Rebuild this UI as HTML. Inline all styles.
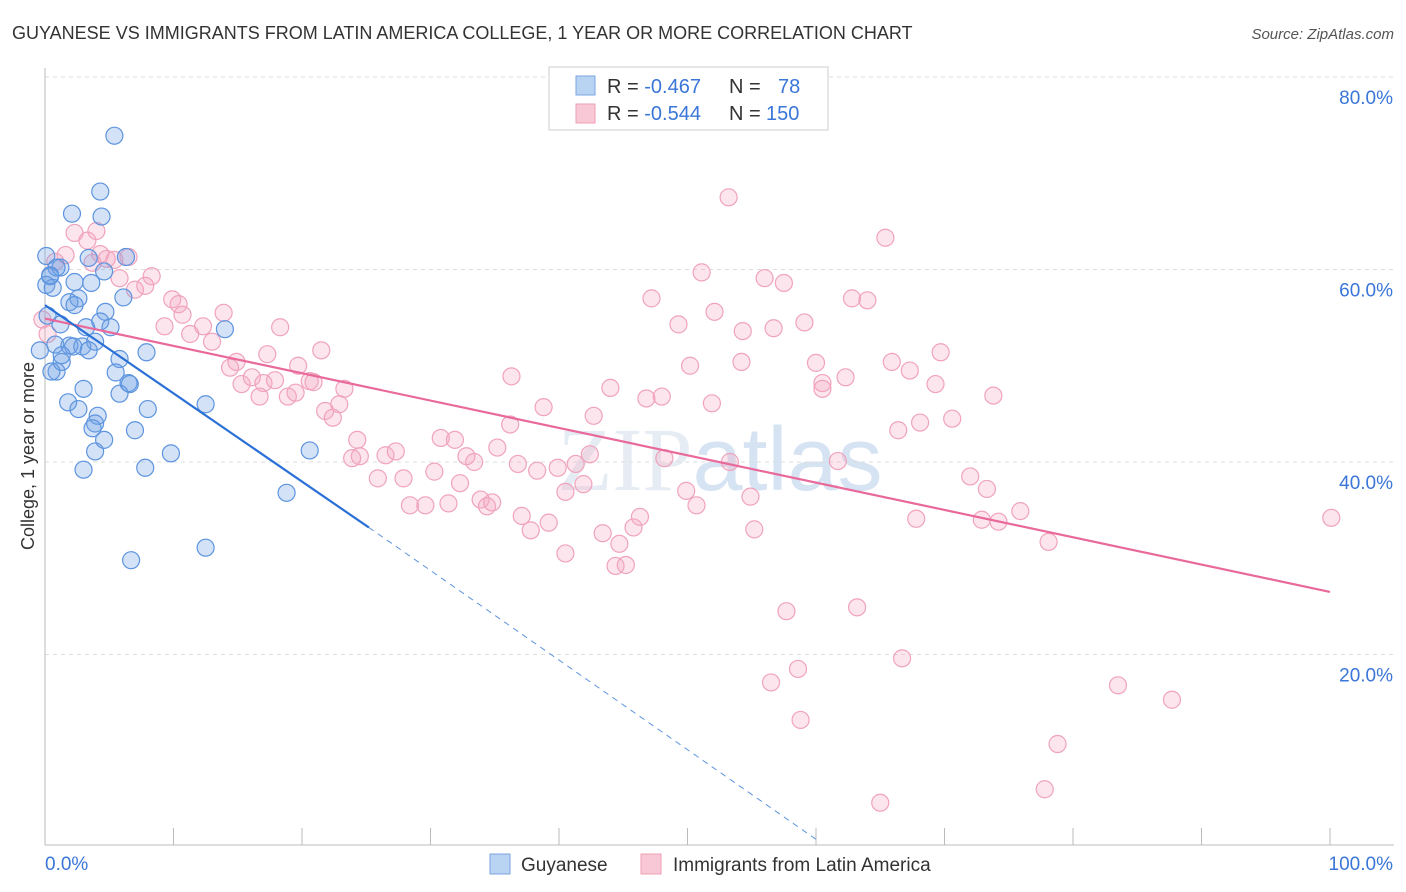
<!DOCTYPE html>
<html><head><meta charset="utf-8"><style>
body{margin:0;background:#fff;font-family:"Liberation Sans",sans-serif;}
svg{display:block}
</style></head><body>
<svg id="chart" width="1406" height="892">
<text x="12" y="39" font-size="18" fill="#333">GUYANESE VS IMMIGRANTS FROM LATIN AMERICA COLLEGE, 1 YEAR OR MORE CORRELATION CHART</text>
<text x="1394" y="39" font-size="15" fill="#555" font-style="italic" text-anchor="end">Source: ZipAtlas.com</text>
<text x="720" y="490" font-size="90" fill="#e6ecf4" text-anchor="middle" font-family="Liberation Serif">ZIP<tspan fill="#d6e3f3" font-family="Liberation Sans">atlas</tspan></text>
<g id="grid"></g>
<g id="marks"></g>
<text transform="translate(34,456) rotate(-90)" font-size="18" fill="#333" text-anchor="middle">College, 1 year or more</text>
<g>
<rect x="549" y="67" width="279" height="63" fill="#fff" stroke="#ccc"/>
<rect x="576" y="76" width="19" height="19" fill="#b9d3f3" stroke="#7aa6e0"/>
<rect x="576" y="104" width="19" height="19" fill="#f9c8d6" stroke="#ee9fb7"/>
<text x="607" y="93" font-size="20" fill="#333">R = <tspan fill="#3a76d8">-0.467</tspan><tspan x="729">N = </tspan><tspan x="778" fill="#3a76d8">78</tspan></text>
<text x="607" y="120" font-size="20" fill="#333">R = <tspan fill="#3a76d8">-0.544</tspan><tspan x="729">N = </tspan><tspan x="766" fill="#3a76d8">150</tspan></text>
</g>
<g>
<rect x="490" y="854" width="20" height="20" fill="#b9d3f3" stroke="#7aa6e0"/>
<text x="521" y="871" font-size="19" fill="#333">Guyanese</text>
<rect x="641" y="854" width="20" height="20" fill="#f9c8d6" stroke="#ee9fb7"/>
<text x="673" y="871" font-size="19" fill="#333">Immigrants from Latin America</text>
</g>
</svg>
<script>
const xTicks=[0,10,20,30,40,50,60,70,80,90,100];
const yTicks=[20,40,60,80];
const blueX=[5.4,4.3,2.1,4.4,0.1,1.2,3.4,6.3,0.4,0.1,0.6,2.3,3.6,4.6,2.6,1.9,6.1,4.7,2.3,0.2,1.2,3.2,4.3,5.1,14.0,3.9,0.8,1.9,2.9,3.4,5.8,7.9,0.9,0.5,5.5,6.5,6.6,5.8,3.0,1.8,2.6,8.0,4.1,12.5,3.9,3.7,7.0,4.6,3.9,9.8,20.6,3.0,7.8,18.8,12.5,6.7,0.9,0.4,1.3,2.2,-0.4,1.3];
const blueY=[73.9,68.1,65.8,65.5,61.4,60.2,61.2,61.3,59.4,58.4,58.1,58.7,58.6,59.8,57.0,56.6,57.1,55.6,56.3,55.2,54.3,54.0,54.6,54.0,53.8,52.5,52.2,52.1,52.0,51.6,50.7,51.4,49.4,49.4,49.3,48.2,48.1,47.1,47.6,46.2,45.5,45.5,44.8,46.0,44.0,43.5,43.3,42.3,41.1,40.9,41.2,39.2,39.4,36.8,31.1,29.8,60.2,59.3,50.4,52.0,51.6,51.1];
const pinkX=[2.3,3.3,6.5,1.6,4.3,5.4,3.7,4.8,0.8,5.8,8.3,7.8,7.0,9.9,10.4,10.7,13.9,9.3,12.3,11.3,13.0,18.3,14.9,17.3,14.4,15.3,16.1,17.0,17.9,19.7,21.5,16.7,18.9,19.5,20.6,23.3,20.9,21.8,22.4,22.9,24.3,24.5,23.9,25.9,26.5,27.3,27.9,28.4,29.6,31.4,30.3,30.8,31.9,32.8,33.4,32.3,33.9,34.4,34.8,35.2,36.2,36.3,36.8,37.1,37.8,38.8,39.2,38.3,39.9,40.5,41.3,41.9,42.4,42.7,40.5,43.4,44.0,44.7,44.4,45.2,45.8,46.3,46.8,47.2,48.0,48.2,49.3,49.9,50.2,50.7,51.1,51.9,52.1,53.2,53.3,54.2,54.3,54.9,55.2,56.0,56.7,57.7,57.5,58.6,58.8,56.5,59.1,60.0,60.5,60.5,62.3,61.7,62.8,63.2,64.0,65.4,65.9,66.4,66.7,67.3,67.8,68.1,69.3,69.7,70.6,72.0,72.9,73.3,73.8,74.2,75.9,78.1,78.8,77.8,65.0,83.5,87.7,100.1,0.2,-0.2,4.0];
const pinkY=[63.8,63.0,61.3,61.5,61.6,61.0,60.7,61.1,60.8,59.1,59.3,58.3,57.9,56.9,56.4,55.3,55.5,54.1,54.1,53.3,52.5,54.0,50.4,51.2,49.8,48.1,48.8,48.2,48.5,50.0,51.6,46.8,46.8,47.2,48.4,47.6,48.3,45.3,44.6,46.0,42.3,40.6,40.4,38.3,40.7,41.1,38.3,35.5,35.5,35.7,39.0,42.5,42.3,40.6,40.0,37.8,36.1,35.4,35.8,41.5,43.9,48.9,39.8,34.4,32.9,45.7,33.7,39.1,39.4,36.9,39.8,37.7,40.8,44.8,30.5,32.6,47.7,31.5,29.2,29.3,33.2,34.3,46.6,57.0,46.8,40.4,54.3,37.0,50.0,35.5,59.7,46.1,55.6,67.5,40.0,50.4,53.6,36.4,33.0,59.1,53.9,24.5,58.6,18.5,13.2,17.1,54.5,50.3,48.2,47.6,48.8,40.1,57.0,24.9,56.8,63.3,50.4,43.3,19.6,49.5,34.1,44.1,48.1,51.4,44.5,38.5,34.0,37.2,46.9,33.8,34.9,31.7,10.7,6.0,4.6,16.8,15.3,34.2,53.3,54.8,64.0];
const blueTrend=[[0,56.3],[25.2,33.2]];
const blueDash=[[25.2,33.2],[60,0.8]];
const pinkTrend=[[0,54.9],[100,26.5]];
const X0=45,X1=1330,YB=847,YT=77;
const xs=v=>X0+(X1-X0)*v/100;
const ys=v=>YB-(YB-YT)*v/80;
const NS='http://www.w3.org/2000/svg';
function mk(tag,attrs,parent){const e=document.createElementNS(NS,tag);for(const k in attrs)e.setAttribute(k,attrs[k]);parent.appendChild(e);return e;}
const grid=document.getElementById('grid'),marks=document.getElementById('marks');
yTicks.forEach(t=>{
 const l=mk('line',{x1:X0,x2:1394,y1:ys(t),y2:ys(t),stroke:'#ddd','stroke-dasharray':'4,4'},grid);
 
 
 const tx=mk('text',{x:1393,y:ys(t)+27,'font-size':19,fill:'#3a76d8','text-anchor':'end'},grid);
 tx.textContent=t.toFixed(1)+'%';
 
 
});
let ax=mk('line',{x1:X0,x2:X0,y1:68,y2:845,stroke:'#bbb'},grid);


ax=mk('line',{x1:X0,x2:1394,y1:845,y2:845,stroke:'#bbb'},grid);


xTicks.forEach(t=>{if(t===0)return;
 const l=mk('line',{x1:xs(t),x2:xs(t),y1:828,y2:845,stroke:'#bbb'},grid);
 
 
});
[[0,'0.0%','start',45],[100,'100.0%','end',1393]].forEach(a=>{
 const tx=mk('text',{x:a[3],y:870,'font-size':19,fill:'#3a76d8','text-anchor':a[2]},grid);
 tx.textContent=a[1];
 
 
});
pinkX.forEach((x,i)=>{
 const c=mk('circle',{cx:xs(x),cy:ys(pinkY[i]),r:8.5,fill:'rgba(246,170,195,0.3)',stroke:'#f0a3bb','stroke-width':1.2},marks);
 
 
});
blueX.forEach((x,i)=>{
 const c=mk('circle',{cx:xs(x),cy:ys(blueY[i]),r:8.5,fill:'rgba(110,160,230,0.3)',stroke:'#5d94df','stroke-width':1.2},marks);
 
 
});
let t=mk('line',{x1:xs(pinkTrend[0][0]),y1:ys(pinkTrend[0][1]),x2:xs(pinkTrend[1][0]),y2:ys(pinkTrend[1][1]),stroke:'#e8699a','stroke-width':2.2},marks);


t=mk('line',{x1:xs(blueTrend[0][0]),y1:ys(blueTrend[0][1]),x2:xs(blueTrend[1][0]),y2:ys(blueTrend[1][1]),stroke:'#2a70d6','stroke-width':2.2},marks);


t=mk('line',{x1:xs(blueDash[0][0]),y1:ys(blueDash[0][1]),x2:xs(blueDash[1][0]),y2:ys(blueDash[1][1]),stroke:'#5d94df','stroke-width':1,'stroke-dasharray':'6,5'},marks);


</script>
</body></html>
